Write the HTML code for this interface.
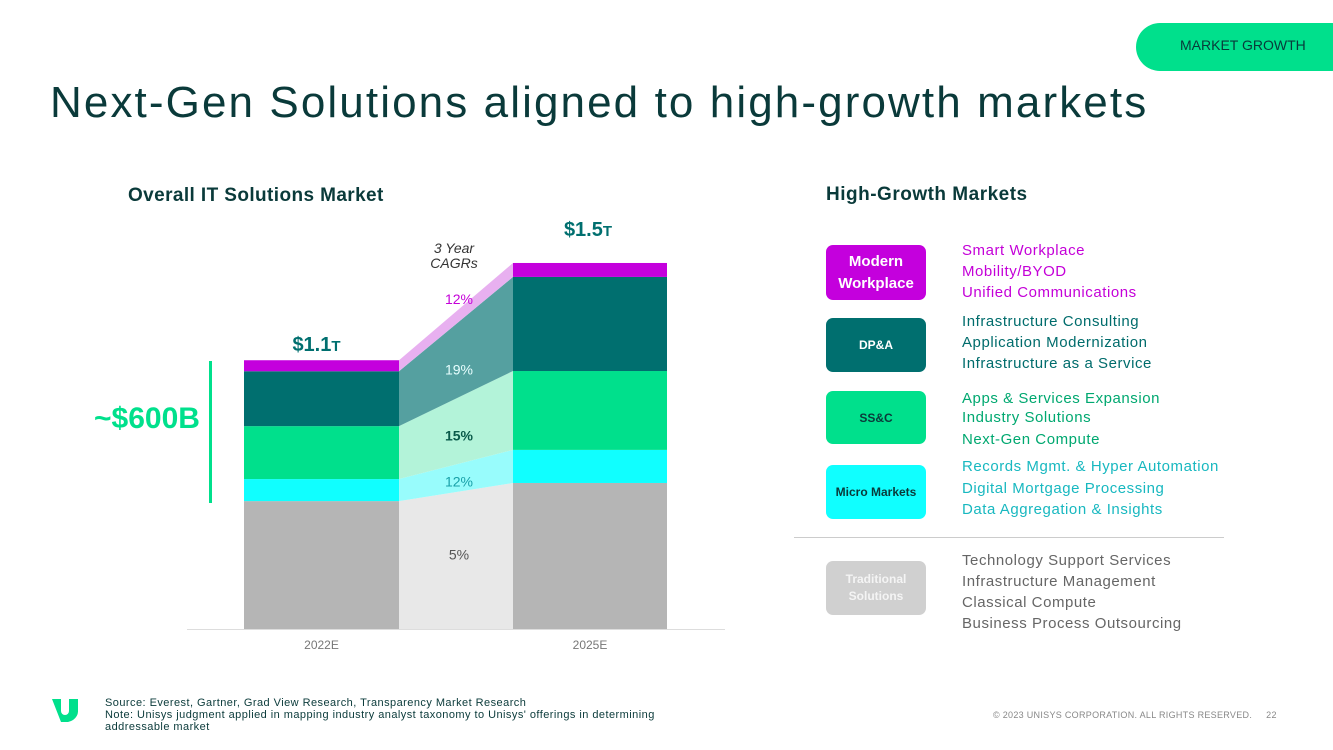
<!DOCTYPE html>
<html><head><meta charset="utf-8"><style>
body{margin:0;width:1333px;height:750px;overflow:hidden;background:#fff;font-family:"Liberation Sans",sans-serif;position:relative}
.a{position:absolute;white-space:nowrap}
.box{position:absolute;left:826px;width:100px;border-radius:7px;display:flex;align-items:center;justify-content:center;text-align:center;font-weight:bold}
.items{position:absolute;left:962px;font-size:15px;line-height:21px;letter-spacing:0.55px}
</style></head><body>
<div class="a" style="left:1136px;top:23px;width:220px;height:48px;border-radius:24px;background:#00e08c;color:#083a3a;font-size:14px;line-height:45px;padding-left:44px;box-sizing:border-box">MARKET GROWTH</div>
<div class="a" style="left:50px;top:78px;font-size:44px;letter-spacing:2.1px;color:#0a3a3a">Next-Gen Solutions aligned to high-growth markets</div>
<div class="a" style="left:128px;top:185px;font-size:19px;letter-spacing:0.4px;font-weight:bold;color:#0a3a3a">Overall IT Solutions Market</div>
<div class="a" style="left:826px;top:184px;font-size:19px;letter-spacing:0.5px;font-weight:bold;color:#0a3a3a">High-Growth Markets</div>

<svg class="a" style="left:0;top:0" width="760" height="680" id="chart"></svg>

<div class="a" style="left:209px;top:361px;width:3px;height:142px;background:#00e08c"></div>
<div class="a" style="left:94px;top:402px;font-size:30px;font-weight:bold;color:#00e08c">~$600B</div>

<div class="box" style="top:245px;height:55px;background:#c400dd;color:#fff;font-size:15px;line-height:22px">Modern<br>Workplace</div>
<div class="items" style="top:240px;color:#c400d8">Smart Workplace<br>Mobility/BYOD<br>Unified Communications</div>
<div class="box" style="top:318px;height:54px;background:#006f6f;color:#fff;font-size:12px">DP&amp;A</div>
<div class="items" style="top:311px;color:#006c6c">Infrastructure Consulting<br>Application Modernization<br>Infrastructure as a Service</div>
<div class="box" style="top:391px;height:53px;background:#00e08c;color:#0a3a3a;font-size:12px">SS&amp;C</div>
<div class="items" style="top:389px;color:#00a870;line-height:19px">Apps &amp; Services Expansion<br>Industry Solutions<br><span style="display:inline-block;margin-top:3px">Next-Gen Compute</span></div>
<div class="box" style="top:465px;height:54px;background:#10ffff;color:#0a3a3a;font-size:12px">Micro Markets</div>
<div class="items" style="top:456px;color:#18b8c0;line-height:21.5px">Records Mgmt. &amp; Hyper Automation<br>Digital Mortgage Processing<br>Data Aggregation &amp; Insights</div>
<div class="a" style="left:794px;top:537px;width:430px;height:1px;background:#ccc"></div>
<div class="box" style="top:561px;height:54px;background:#d0d0d0;color:#f4f4f4;font-size:12px;line-height:17px">Traditional<br>Solutions</div>
<div class="items" style="top:550px;color:#666">Technology Support Services<br>Infrastructure Management<br>Classical Compute<br>Business Process Outsourcing</div>

<svg class="a" style="left:52px;top:699px" width="26" height="23"><path d="M0 0h9v12a4 4 0 0 0 8 0V0h9v12a13 11 0 0 1-16 11H9z" fill="#00e08c"/></svg>
<div class="a" style="left:105px;top:697px;font-size:11px;letter-spacing:0.45px;line-height:12px;color:#0a3a3a">Source: Everest, Gartner, Grad View Research, Transparency Market Research<br>Note: Unisys judgment applied in mapping industry analyst taxonomy to Unisys' offerings in determining<br>addressable market</div>
<div class="a" style="left:993px;top:710px;font-size:9px;letter-spacing:0.3px;color:#888">© 2023 UNISYS CORPORATION. ALL RIGHTS RESERVED.&nbsp;&nbsp;&nbsp;&nbsp;&nbsp;22</div>

<script>
const categories = ["2022E","2025E"];
const segments = ["Traditional","Micro Markets","SS&C","DP&A","Modern Workplace"];
const values2022 = [522, 90, 216, 224, 45];
const values2025 = [596, 135, 322, 384, 57];
const cagrLabels = ["5%","12%","15%","19%","12%"];
const totalLabels = ["$1.1","$1.5"];
const solid = ["#b5b5b5","#10ffff","#00e08c","#006f6f","#c400dd"];
const light = ["#e8e8e8","#98fcfc","#b3f3d9","#55a0a0","#e8b0f0"];
const cagrColors = ["#555","#18a0a8","#0a5a4a","#e8ffff","#c400d8"];
const labelNudge = [-6, 3, 4, 8, 0];
const NS="http://www.w3.org/2000/svg";
const svg=document.getElementById('chart');
const base=629, k=0.245;
const bars=[{x0:244,x1:399},{x0:513,x1:667}];
const y=v=>base-v*k;
function el(t,a){const e=document.createElementNS(NS,t);for(const n in a)e.setAttribute(n,a[n]);svg.appendChild(e);return e;}
const axis=el('line',{x1:187,x2:725,y1:629.5,y2:629.5,stroke:'#ddd'});


let c0=0,c1=0;
for(let i=0;i<segments.length;i++){
  const a0=c0,a1=c1;c0+=values2022[i];c1+=values2025[i];
  const p=el('polygon',{points:`${bars[0].x1},${y(a0)} ${bars[1].x0},${y(a1)} ${bars[1].x0},${y(c1)} ${bars[0].x1},${y(c0)}`,fill:light[i]});
  
  
  [[a0,c0,0],[a1,c1,1]].forEach(([lo,hi,b])=>{
    const r=el('rect',{x:bars[b].x0,width:bars[b].x1-bars[b].x0,y:y(hi),height:(hi-lo)*k,fill:solid[i]});
    
    
  });
  const mx=(bars[0].x1+bars[1].x0)/2+3;
  let my=(y(a0)+y(c0)+y(a1)+y(c1))/4+5+labelNudge[i];
  if(i===4) my=y(c0)-56;
  const t=el('text',{x:mx,y:my,'text-anchor':'middle','font-size':14,'font-weight':i===2?'bold':'normal',fill:cagrColors[i],'font-family':'Liberation Sans, sans-serif'});
  t.textContent=cagrLabels[i];
  
  
}
[c0,c1].forEach((tot,b)=>{
  const cx=(bars[b].x0+bars[b].x1)/2+(b?-2:-5);
  const t=el('text',{x:cx,y:y(tot)-(b?27:9),'text-anchor':'middle','font-size':20,'font-weight':'bold',fill:'#006f6f','font-family':'Liberation Sans, sans-serif'});
  t.innerHTML=totalLabels[b]+'<tspan font-size="15">T</tspan>';
  
  
  const l=el('text',{x:(bars[b].x0+bars[b].x1)/2,y:649,'text-anchor':'middle','font-size':12,fill:'#777','font-family':'Liberation Sans, sans-serif'});
  l.textContent=categories[b];
  
  
});
const ct=el('text',{x:454,y:253,'text-anchor':'middle','font-size':14,'font-style':'italic',fill:'#333','font-family':'Liberation Sans, sans-serif'});
ct.innerHTML='<tspan x="454">3 Year</tspan><tspan x="454" dy="15">CAGRs</tspan>';


</script>
</body></html>
